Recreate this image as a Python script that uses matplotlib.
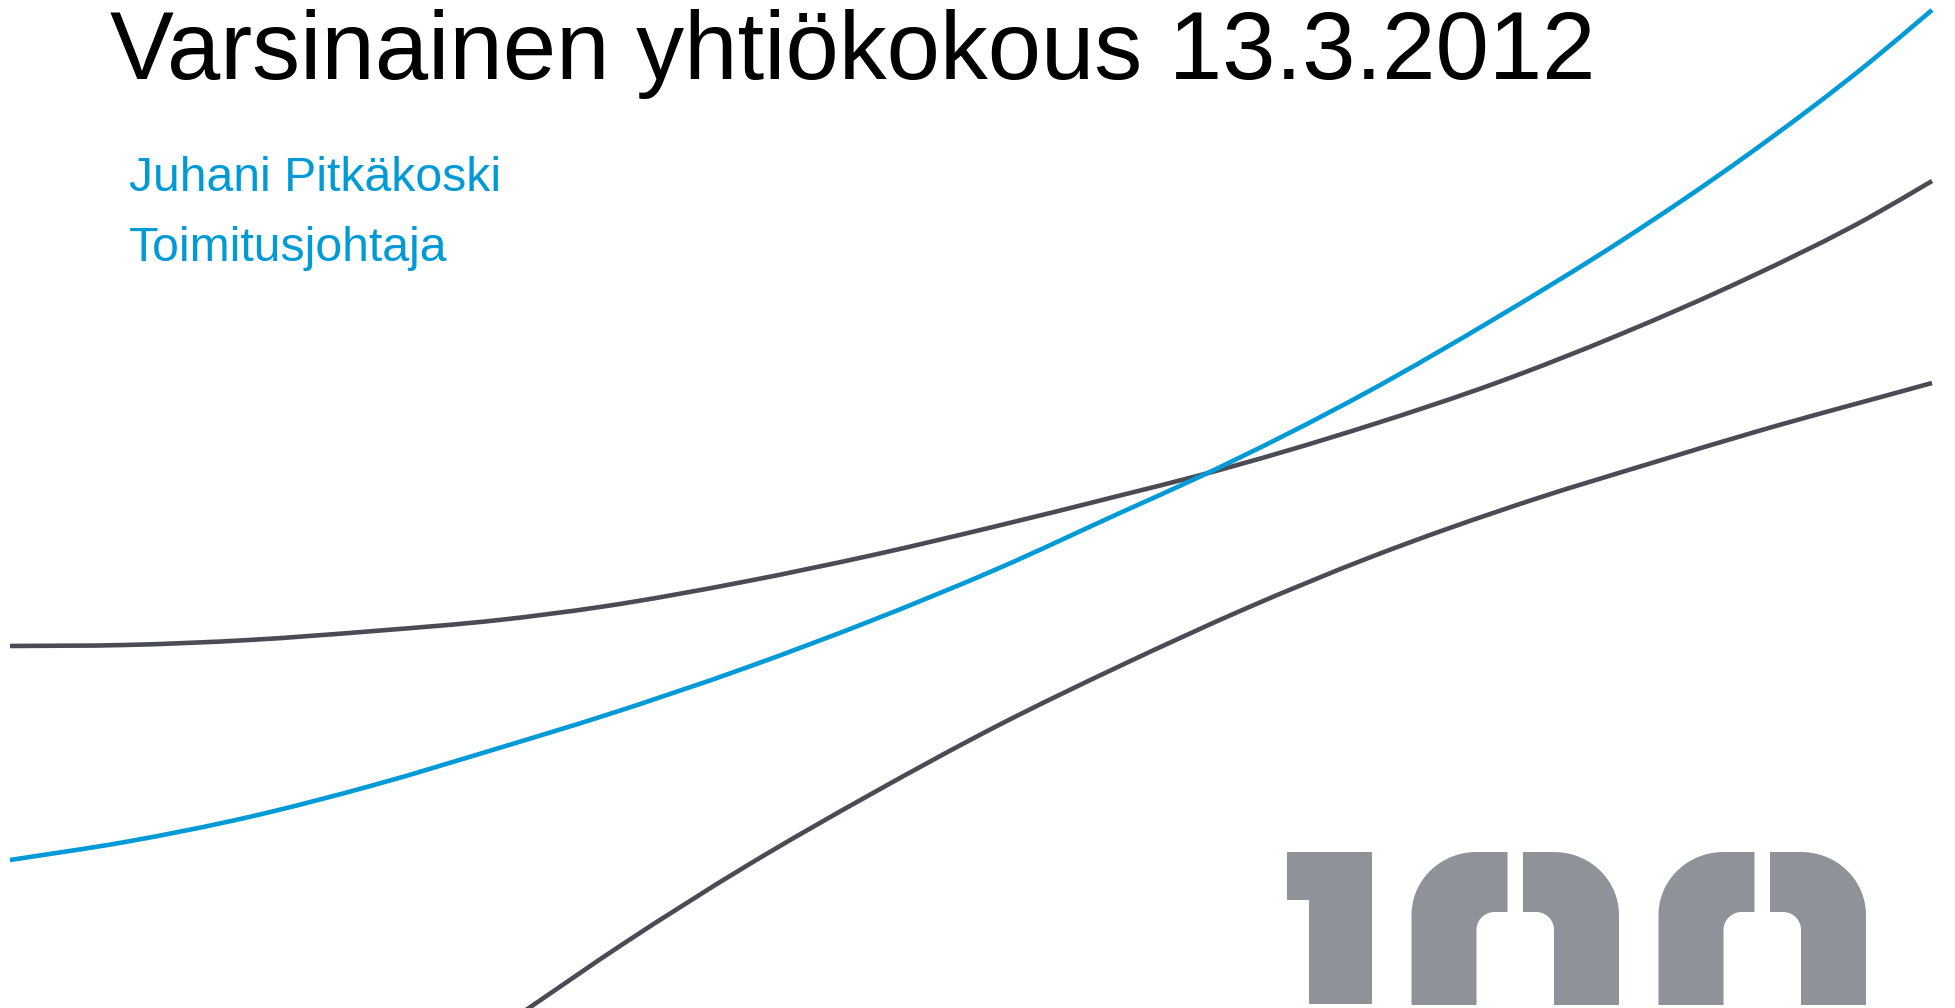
import matplotlib
matplotlib.use("Agg")
import matplotlib.pyplot as plt
import numpy as np
from matplotlib.patches import Polygon, PathPatch
from matplotlib.path import Path

# slide size in pixels
W, H = 1955, 1008

# texts
title = "Varsinainen yhtiökokous 13.3.2012"
speaker = "Juhani Pitkäkoski"
role = "Toimitusjohtaja"

# curves (pixel coordinates, y grows downwards)
blue_x = [10, 125, 249, 374, 499, 600, 748, 873, 997, 1122, 1197, 1371, 1496, 1621, 1746, 1870, 1932]
blue_y = [860, 842, 817, 785, 748, 717, 667, 620, 569, 512, 478, 390, 318, 241, 156, 62, 10]

upper_x = [10, 125, 249, 374, 499, 600, 748, 873, 997, 1122, 1197, 1371, 1496, 1621, 1746, 1870, 1932]
upper_y = [646, 645, 640, 631, 620, 607, 581, 555, 526, 495, 476, 425, 383, 334, 279, 217, 181]

lower_x = [526, 623, 748, 873, 997, 1122, 1247, 1371, 1532, 1655, 1755, 1932]
lower_y = [1010, 944, 865, 793, 726, 665, 608, 557, 500, 462, 432, 383]

BLUE = "#009ad7"
DARK = "#4b4b55"
LOGO = "#8d9398"

# logo "100" geometry
logo_top, logo_bottom, logo_inner = 852, 1005, 912
half_w, stem_w, r_in = 96, 65, 18
one_box = (1287, 1309, 1372, 900)          # left, stem left, right, flag bottom
arch_halves = [(1411.5, "left"), (1619, "right"), (1658.5, "left"), (1866, "right")]


def smooth_path(xs, ys):
    """Cubic Hermite through the points (slopes from neighbours), as Bezier segments."""
    x = np.asarray(xs, float)
    y = np.asarray(ys, float)
    m = np.gradient(y, x)
    verts = [(x[0], y[0])]
    codes = [Path.MOVETO]
    for i in range(len(x) - 1):
        h = x[i + 1] - x[i]
        verts += [(x[i] + h / 3, y[i] + m[i] * h / 3),
                  (x[i + 1] - h / 3, y[i + 1] - m[i + 1] * h / 3),
                  (x[i + 1], y[i + 1])]
        codes += [Path.CURVE4] * 3
    return Path(verts, codes)


def arch_half(x_out, side):
    """One half of the rounded 'n' of the logo, outer edge at x_out."""
    s = 1 if side == "left" else -1
    ry = logo_inner - logo_top + 3
    t = np.linspace(0, np.pi / 2, 30)
    # outer rounded corner
    cx, cy = x_out + s * stem_w, logo_top + ry
    outer = np.column_stack([cx - s * stem_w * np.cos(t), cy - ry * np.sin(t)])
    # small inner corner
    icx, icy = x_out + s * (stem_w + r_in), logo_inner + r_in
    inner = np.column_stack([icx - s * r_in * np.cos(t), icy - r_in * np.sin(t)])[::-1]
    pts = [(x_out, logo_bottom)]
    pts += outer.tolist()
    pts += [(x_out + s * half_w, logo_top), (x_out + s * half_w, logo_inner)]
    pts += inner.tolist()
    pts += [(x_out + s * stem_w, logo_bottom)]
    return pts


fig = plt.figure(figsize=(W / 100, H / 100), dpi=100)
ax = fig.add_axes([0, 0, 1, 1])
ax.set_xlim(0, W)
ax.set_ylim(H, 0)
ax.axis("off")

# curves
for xs, ys, col, z in [(upper_x, upper_y, DARK, 2), (lower_x, lower_y, DARK, 2),
                       (blue_x, blue_y, BLUE, 3)]:
    ax.add_patch(PathPatch(smooth_path(xs, ys), facecolor="none", edgecolor=col,
                           lw=3.3, capstyle="butt", zorder=z))

# logo
l, sl, r, fb = one_box
ax.add_patch(Polygon([(l, logo_top), (r, logo_top), (r, logo_bottom - 1),
                      (sl, logo_bottom - 1), (sl, fb), (l, fb)],
                     closed=True, color=LOGO, lw=0, zorder=1))
for x_out, side in arch_halves:
    ax.add_patch(Polygon(arch_half(x_out, side), closed=True, color=LOGO, lw=0, zorder=1))

# texts
ax.text(110, 79, title, fontsize=69, family="Liberation Sans", color="black", va="baseline")
ax.text(129, 191, speaker, fontsize=34.7, family="Liberation Sans", color=BLUE, va="baseline")
ax.text(129, 261, role, fontsize=34.7, family="Liberation Sans", color=BLUE, va="baseline")

fig.savefig("out.png", dpi=100, facecolor="white")
